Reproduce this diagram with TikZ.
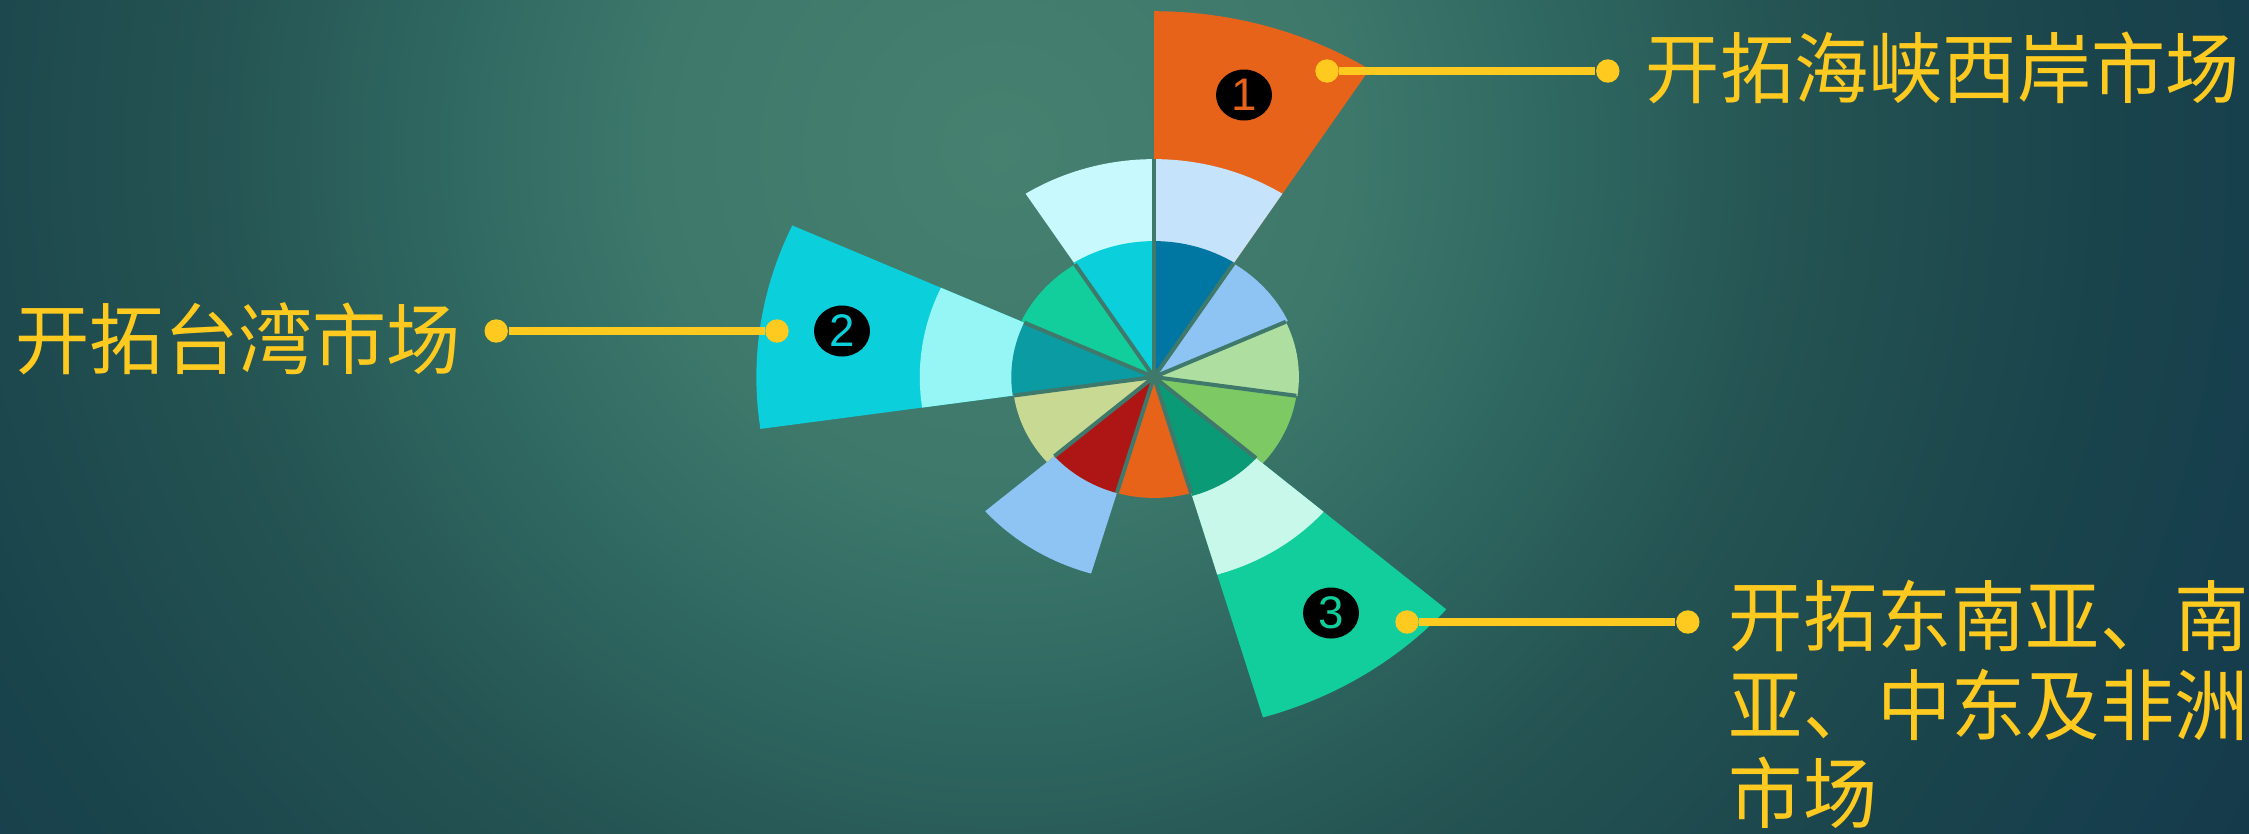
\documentclass[tikz,border=0pt]{standalone}
\usepackage{fontspec}
\newfontfamily\cjkfont[FakeStretch=0.96]{Noto Sans CJK SC}
\newfontfamily\numfont{Liberation Sans}
\usetikzlibrary{positioning,shapes.geometric}

\definecolor{bgA}{HTML}{46806F}
\definecolor{bgB}{HTML}{3D786B}
\definecolor{bgC}{HTML}{316B63}
\definecolor{bgD}{HTML}{245352}
\definecolor{bgE}{HTML}{1A444C}
\definecolor{bgF}{HTML}{163E4D}
\definecolor{bgG}{HTML}{15394A}
\definecolor{gapcol}{HTML}{3F796C}
\definecolor{gold}{HTML}{FFCA1F}
\definecolor{pA1}{HTML}{0077A3}
\definecolor{pA2}{HTML}{C5E3FA}
\definecolor{pA3}{HTML}{E8631A}
\definecolor{pB}{HTML}{8EC4F4}
\definecolor{pC}{HTML}{AEDFA0}
\definecolor{pD}{HTML}{7DC964}
\definecolor{pE1}{HTML}{0A9B76}
\definecolor{pE2}{HTML}{C8F8EA}
\definecolor{pE3}{HTML}{12CE9C}
\definecolor{pF}{HTML}{E8631A}
\definecolor{pG1}{HTML}{AE1515}
\definecolor{pG2}{HTML}{8EC4F4}
\definecolor{pH}{HTML}{C8D993}
\definecolor{pI1}{HTML}{0A9BA3}
\definecolor{pI2}{HTML}{96F6F6}
\definecolor{pI3}{HTML}{0BCFDB}
\definecolor{pJ}{HTML}{12CE9C}
\definecolor{pK1}{HTML}{0BCFDB}
\definecolor{pK2}{HTML}{C8F9FC}

\pgfdeclareradialshading{bgglow}{\pgfpointorigin}{color(0bp)=(bgA); color(99bp)=(bgB); color(147bp)=(bgC); color(227bp)=(bgD); color(312bp)=(bgE); color(369bp)=(bgF); color(425bp)=(bgG); color(520bp)=(bgG)}

\begin{document}
\begin{tikzpicture}[dot/.style={circle,fill=gold,inner sep=0pt,minimum size=0.234cm},conn/.style={draw=gold,line width=0.08cm},badge/.style={ellipse,fill=black,inner sep=0pt,minimum width=0.56cm,minimum height=0.51cm,font=\numfont\fontsize{13}{13}\selectfont},market/.style={text=gold,inner sep=0pt,font=\cjkfont\fontsize{22}{25.3}\selectfont},gap/.style={draw=gapcol,line width=0.04cm}]
  \useasboundingbox (0,0) rectangle (22.49,8.33);
  \begin{scope}
    \clip (0,0) rectangle (22.49,8.33);
    \node[inner sep=0pt] at (10.0,6.83) {\pgfuseshading{bgglow}};
  \end{scope}
  % rose: 11 wedges, outer layer first
  \begin{scope}[shift={(11.54,4.56)},x=0.0109cm,y=0.01cm]
    \foreach \k/\r/\c in {1/366/pA3,1/218/pA2,1/136/pA1,2/135/pB,3/133/pC,4/132/pD,5/355/pE3,5/206/pE2,5/124/pE1,6/121/pF,7/205/pG2,7/121/pG1,8/130/pH,9/365/pI3,9/215/pI2,9/131/pI1,10/134/pJ,11/218/pK2,11/136/pK1}{
      \pgfmathsetmacro\sa{90-(\k-1)*360/11}
      \pgfmathsetmacro\sb{90-\k*360/11}
      \fill[\c] (0,0) -- (\sa:\r) arc[start angle=\sa,end angle=\sb,radius=\r] -- cycle;
    }
    \foreach \k/\r in {0/218,1/135,2/133,3/132,4/124,5/121,6/121,7/121,8/130,9/131,10/134}
      \draw[gap] (0,0) -- ({90-\k*360/11}:\r);
  \end{scope}
  \node[badge,text=pA3] (b1) at (12.44,7.38) {1};
  \node[badge,text=pI3] (b2) at (8.42,5.02) {2};
  \node[badge,text=pE3] (b3) at (13.31,2.20) {3};
  \node[dot] (d1a) at (13.27,7.62) {};
  \node[dot,right=2.56cm of d1a] (d1b) {};
  \draw[conn] (d1a) -- (d1b);
  \node[market,right=0.25cm of d1b,yshift=0.03cm] (t1) {开拓海峡西岸市场};
  \node[dot] (d2b) at (7.77,5.02) {};
  \node[dot,left=2.56cm of d2b] (d2a) {};
  \draw[conn] (d2a) -- (d2b);
  \node[market,left=0.22cm of d2a,yshift=-0.08cm] (t2) {开拓台湾市场};
  \node[dot] (d3a) at (14.07,2.11) {};
  \node[dot,right=2.56cm of d3a] (d3b) {};
  \draw[conn] (d3a) -- (d3b);
  \node[market,anchor=north west,align=left] (t3) at ([xshift=0.28cm,yshift=0.43cm]d3b.east) {开拓东南亚、南\\亚、中东及非洲\\市场};
\end{tikzpicture}
\end{document}
